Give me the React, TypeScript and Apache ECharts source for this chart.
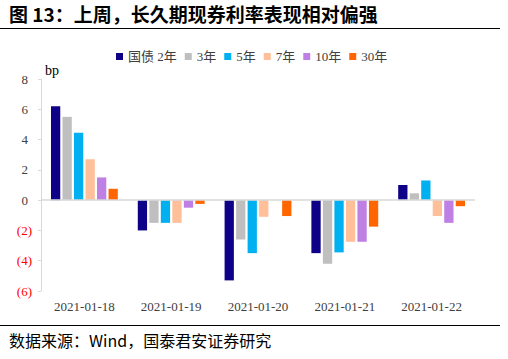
import React, { useEffect, useRef } from "react";
import * as echarts from "echarts";

const categories = ["2021-01-18", "2021-01-19", "2021-01-20", "2021-01-21", "2021-01-22"];
const seriesNames = ["国债 2年", "3年", "5年", "7年", "10年", "30年"];
const y2 = [6.2, -2.0, -5.3, -3.5, 1.0];
const y3 = [5.5, -1.5, -2.6, -4.2, 0.45];
const y5 = [4.45, -1.5, -3.5, -3.45, 1.3];
const y7 = [2.7, -1.5, -1.1, -2.75, -1.05];
const y10 = [1.5, -0.5, 0, -2.75, -1.5];
const y30 = [0.75, -0.25, -1.05, -1.75, -0.4];
const colors = ["#0E0087", "#BFBFBF", "#00B0F0", "#FFBF99", "#BF80E6", "#FF6600"];

const SERIF = "'Liberation Serif', 'Times New Roman', 'Noto Sans CJK SC', serif";
const CJK = "'Noto Sans CJK SC', sans-serif";

export default function App() {
  const ref = useRef<HTMLDivElement>(null);
  useEffect(() => {
    if (!ref.current) return;
    const chart = echarts.init(ref.current, null, { renderer: "svg" });
    const data = [y2, y3, y5, y7, y10, y30];
    chart.setOption({
      animation: false,
      backgroundColor: "#ffffff",
      color: colors,
      grid: { left: 41, right: 33, top: 79, bottom: 68, containLabel: false },
      legend: {
        left: 111,
        top: 45,
        itemWidth: 7,
        itemHeight: 7,
        itemGap: 8,
        icon: "rect",
        textStyle: { fontFamily: SERIF, fontSize: 13, color: "#404040" },
        data: seriesNames,
      },
      xAxis: {
        type: "category",
        data: categories,
        axisLine: { show: false, onZero: false },
        axisTick: { show: false },
        axisLabel: { fontFamily: SERIF, fontSize: 13, color: "#404040", margin: 9 },
      },
      yAxis: {
        type: "value",
        min: -6,
        max: 8,
        interval: 2,
        splitLine: { show: false },
        axisLine: { show: true, lineStyle: { color: "#D9D9D9" } },
        axisTick: { show: true, length: 3, lineStyle: { color: "#D9D9D9" } },
        axisLabel: {
          margin: 9,
          formatter: (v: number) => (v < 0 ? `{n|(${Math.abs(v)})}` : `{p|${v}}`),
          rich: {
            n: { fontFamily: SERIF, fontSize: 13, color: "#FF0000" },
            p: { fontFamily: SERIF, fontSize: 13, color: "#404040", padding: [0, 4, 0, 0] },
          },
        },
      },
      series: seriesNames.map((name, i) => ({
        name,
        type: "bar",
        data: data[i],
        barGap: "24%",
        barCategoryGap: "23%",
        itemStyle: { color: colors[i] },
        markLine:
          i === 0
            ? {
                silent: true,
                symbol: "none",
                label: { show: false },
                lineStyle: { color: "#D9D9D9", type: "solid", width: 1.5 },
                data: [{ yAxis: 0 }],
              }
            : undefined,
      })),
      graphic: [
        {
          type: "text",
          left: 9,
          top: 4,
          style: {
            text: "图 13：上周，长久期现券利率表现相对偏强",
            fontFamily: CJK,
            fontWeight: "bold",
            fontSize: 19,
            fill: "#000000",
          },
        },
        { type: "line", shape: { x1: 0, y1: 28.5, x2: 500, y2: 28.5 }, style: { stroke: "#000", lineWidth: 1 } },
        { type: "line", shape: { x1: 0, y1: 325.5, x2: 500, y2: 325.5 }, style: { stroke: "#000", lineWidth: 1 } },
        {
          type: "text",
          left: 9,
          top: 332,
          style: {
            text: "数据来源：Wind，国泰君安证券研究",
            fontFamily: CJK,
            fontSize: 16,
            fill: "#000000",
          },
        },
        {
          type: "text",
          left: 45,
          top: 63,
          style: { text: "bp", fontFamily: SERIF, fontSize: 14, fill: "#000000" },
        },
      ],
    });
    return () => chart.dispose();
  }, []);
  return (
    <div
      ref={ref}
      style={{ position: "fixed", left: 0, top: 0, width: 508, height: 359 }}
    />
  );
}
